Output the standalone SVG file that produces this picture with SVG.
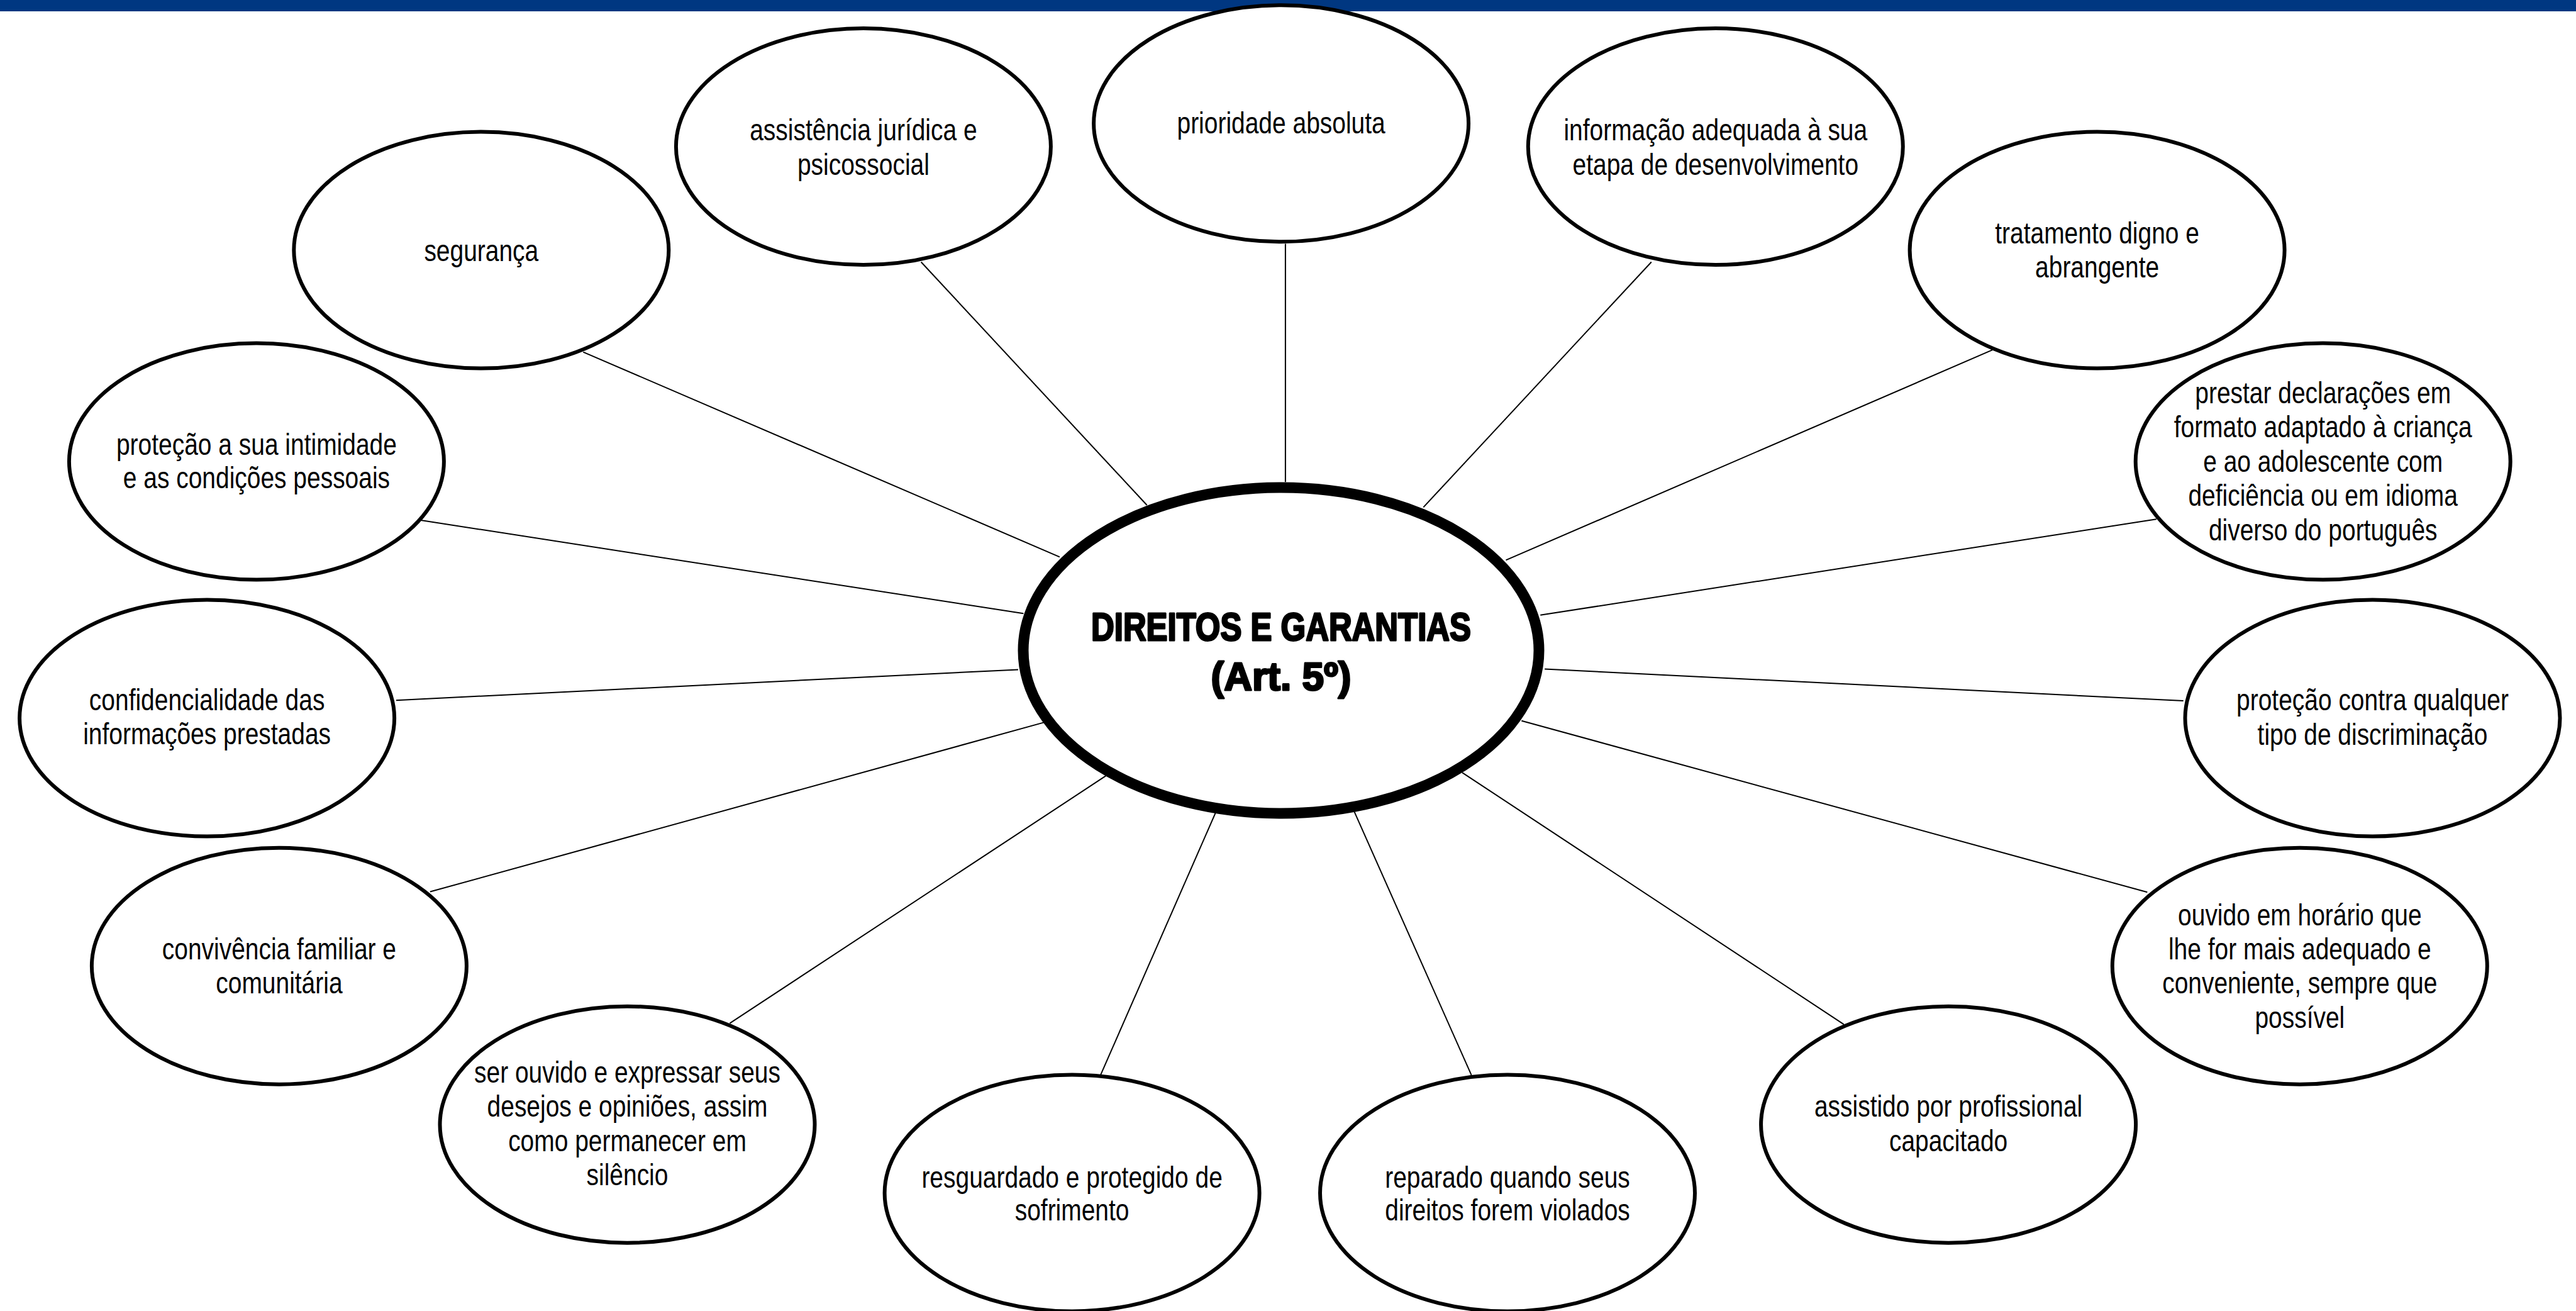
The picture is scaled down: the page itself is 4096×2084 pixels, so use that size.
<svg xmlns="http://www.w3.org/2000/svg" width="4096" height="2084" viewBox="0 0 4096 2084">
<style>
.n{fill:#fff;stroke:#000;stroke-width:6}
.c{fill:#fff;stroke:#000;stroke-width:17}
.t{font-family:"Liberation Sans",Arial,sans-serif;font-size:47.5px;fill:#000;text-anchor:middle}
.h{font-family:"Liberation Sans",Arial,sans-serif;font-size:63px;font-weight:bold;fill:#000;stroke:#000;stroke-width:3;stroke-linejoin:round;text-anchor:middle}
#connectors line{stroke:#000;stroke-width:2}
</style>
<rect x="0" y="0" width="4096" height="2084" fill="#fff"/>
<rect id="topbar" x="0" y="0" width="4096" height="18" fill="#003781"/>
<g id="connectors">
<line x1="927.3" y1="559.6" x2="1684.9" y2="885.3"/>
<line x1="1464.6" y1="416.5" x2="1823.7" y2="803.0"/>
<line x1="2043.9" y1="387.4" x2="2043.9" y2="766.2"/>
<line x1="2625.8" y1="416.5" x2="2263.3" y2="806.4"/>
<line x1="3168.3" y1="556.2" x2="2394.5" y2="890.4"/>
<line x1="3428.9" y1="825.3" x2="2449.3" y2="977.8"/>
<line x1="3471.7" y1="1114.1" x2="2456.2" y2="1063.5"/>
<line x1="3414.3" y1="1418.3" x2="2419.3" y2="1145.8"/>
<line x1="2931.8" y1="1628.3" x2="2325.0" y2="1228.1"/>
<line x1="2339.6" y1="1708.9" x2="2153.6" y2="1290.6"/>
<line x1="1750.0" y1="1708.9" x2="1933.4" y2="1290.6"/>
<line x1="1160.4" y1="1626.6" x2="1758.6" y2="1233.2"/>
<line x1="683.9" y1="1417.5" x2="1660.0" y2="1148.4"/>
<line x1="629.9" y1="1113.2" x2="1618.9" y2="1064.4"/>
<line x1="669.3" y1="827.0" x2="1627.4" y2="975.3"/>
</g>
<g id="center">
<ellipse class="c" cx="2037" cy="1034" rx="410" ry="259"/>
<text class="h" x="2037" y="1018" textLength="604" lengthAdjust="spacingAndGlyphs">DIREITOS E GARANTIAS</text>
<text class="h" x="2037" y="1097" textLength="223" lengthAdjust="spacingAndGlyphs">(Art. 5º)</text>
</g>
<g id="n-seguranca">
<ellipse class="n" cx="765.3" cy="397.6" rx="298" ry="188"/>
<g transform="matrix(0.82 0 0 1 765.3 0)"><text class="t" x="0" y="414.8">segurança</text></g>
</g>
<g id="n-assistencia">
<ellipse class="n" cx="1372.9" cy="233.1" rx="298" ry="188"/>
<g transform="matrix(0.82 0 0 1 1372.9 0)">
<text class="t" x="0" y="222.8">assistência jurídica e</text>
<text class="t" x="0" y="277.7">psicossocial</text>
</g>
</g>
<g id="n-prioridade">
<ellipse class="n" cx="2037.1" cy="196.3" rx="298" ry="188"/>
<g transform="matrix(0.82 0 0 1 2037.1 0)"><text class="t" x="0" y="212.5">prioridade absoluta</text></g>
</g>
<g id="n-informacao">
<ellipse class="n" cx="2727.8" cy="233.1" rx="298" ry="188"/>
<g transform="matrix(0.82 0 0 1 2727.8 0)">
<text class="t" x="0" y="222.8">informação adequada à sua</text>
<text class="t" x="0" y="277.7">etapa de desenvolvimento</text>
</g>
</g>
<g id="n-tratamento">
<ellipse class="n" cx="3334.6" cy="397.6" rx="298" ry="188"/>
<g transform="matrix(0.82 0 0 1 3334.6 0)">
<text class="t" x="0" y="387.4">tratamento digno e</text>
<text class="t" x="0" y="441.4">abrangente</text>
</g>
</g>
<g id="n-prestar">
<ellipse class="n" cx="3693.7" cy="733.6" rx="298" ry="188"/>
<g transform="matrix(0.82 0 0 1 3693.7 0)">
<text class="t" x="0" y="641.0">prestar declarações em</text>
<text class="t" x="0" y="695.4">formato adaptado à criança</text>
<text class="t" x="0" y="749.8">e ao adolescente com</text>
<text class="t" x="0" y="804.2">deficiência ou em idioma</text>
<text class="t" x="0" y="858.6">diverso do português</text>
</g>
</g>
<g id="n-protecao-contra">
<ellipse class="n" cx="3772.5" cy="1141.5" rx="298" ry="188"/>
<g transform="matrix(0.82 0 0 1 3772.5 0)">
<text class="t" x="0" y="1129.5">proteção contra qualquer</text>
<text class="t" x="0" y="1184.4">tipo de discriminação</text>
</g>
</g>
<g id="n-ouvido-horario">
<ellipse class="n" cx="3656.8" cy="1535.7" rx="298" ry="188"/>
<g transform="matrix(0.82 0 0 1 3656.8 0)">
<text class="t" x="0" y="1470.6">ouvido em horário que</text>
<text class="t" x="0" y="1525.5">lhe for mais adequado e</text>
<text class="t" x="0" y="1579.5">conveniente, sempre que</text>
<text class="t" x="0" y="1634.3">possível</text>
</g>
</g>
<g id="n-assistido">
<ellipse class="n" cx="3098.1" cy="1787.7" rx="298" ry="188"/>
<g transform="matrix(0.82 0 0 1 3098.1 0)">
<text class="t" x="0" y="1774.8">assistido por profissional</text>
<text class="t" x="0" y="1829.7">capacitado</text>
</g>
</g>
<g id="n-reparado">
<ellipse class="n" cx="2397.0" cy="1896.5" rx="298" ry="188"/>
<g transform="matrix(0.82 0 0 1 2397.0 0)">
<text class="t" x="0" y="1888.0">reparado quando seus</text>
<text class="t" x="0" y="1940.2">direitos forem violados</text>
</g>
</g>
<g id="n-resguardado">
<ellipse class="n" cx="1704.6" cy="1896.5" rx="298" ry="188"/>
<g transform="matrix(0.82 0 0 1 1704.6 0)">
<text class="t" x="0" y="1888.0">resguardado e protegido de</text>
<text class="t" x="0" y="1940.2">sofrimento</text>
</g>
</g>
<g id="n-ser-ouvido">
<ellipse class="n" cx="997.5" cy="1787.7" rx="298" ry="188"/>
<g transform="matrix(0.82 0 0 1 997.5 0)">
<text class="t" x="0" y="1720.9">ser ouvido e expressar seus</text>
<text class="t" x="0" y="1774.8">desejos e opiniões, assim</text>
<text class="t" x="0" y="1829.7">como permanecer em</text>
<text class="t" x="0" y="1884.5">silêncio</text>
</g>
</g>
<g id="n-convivencia">
<ellipse class="n" cx="443.9" cy="1535.7" rx="298" ry="188"/>
<g transform="matrix(0.82 0 0 1 443.9 0)">
<text class="t" x="0" y="1525.5">convivência familiar e</text>
<text class="t" x="0" y="1579.5">comunitária</text>
</g>
</g>
<g id="n-confidencialidade">
<ellipse class="n" cx="329.1" cy="1141.5" rx="298" ry="188"/>
<g transform="matrix(0.82 0 0 1 329.1 0)">
<text class="t" x="0" y="1128.7">confidencialidade das</text>
<text class="t" x="0" y="1182.7">informações prestadas</text>
</g>
</g>
<g id="n-intimidade">
<ellipse class="n" cx="407.9" cy="733.6" rx="298" ry="188"/>
<g transform="matrix(0.82 0 0 1 407.9 0)">
<text class="t" x="0" y="723.3">proteção a sua intimidade</text>
<text class="t" x="0" y="776.4">e as condições pessoais</text>
</g>
</g>
</svg>
